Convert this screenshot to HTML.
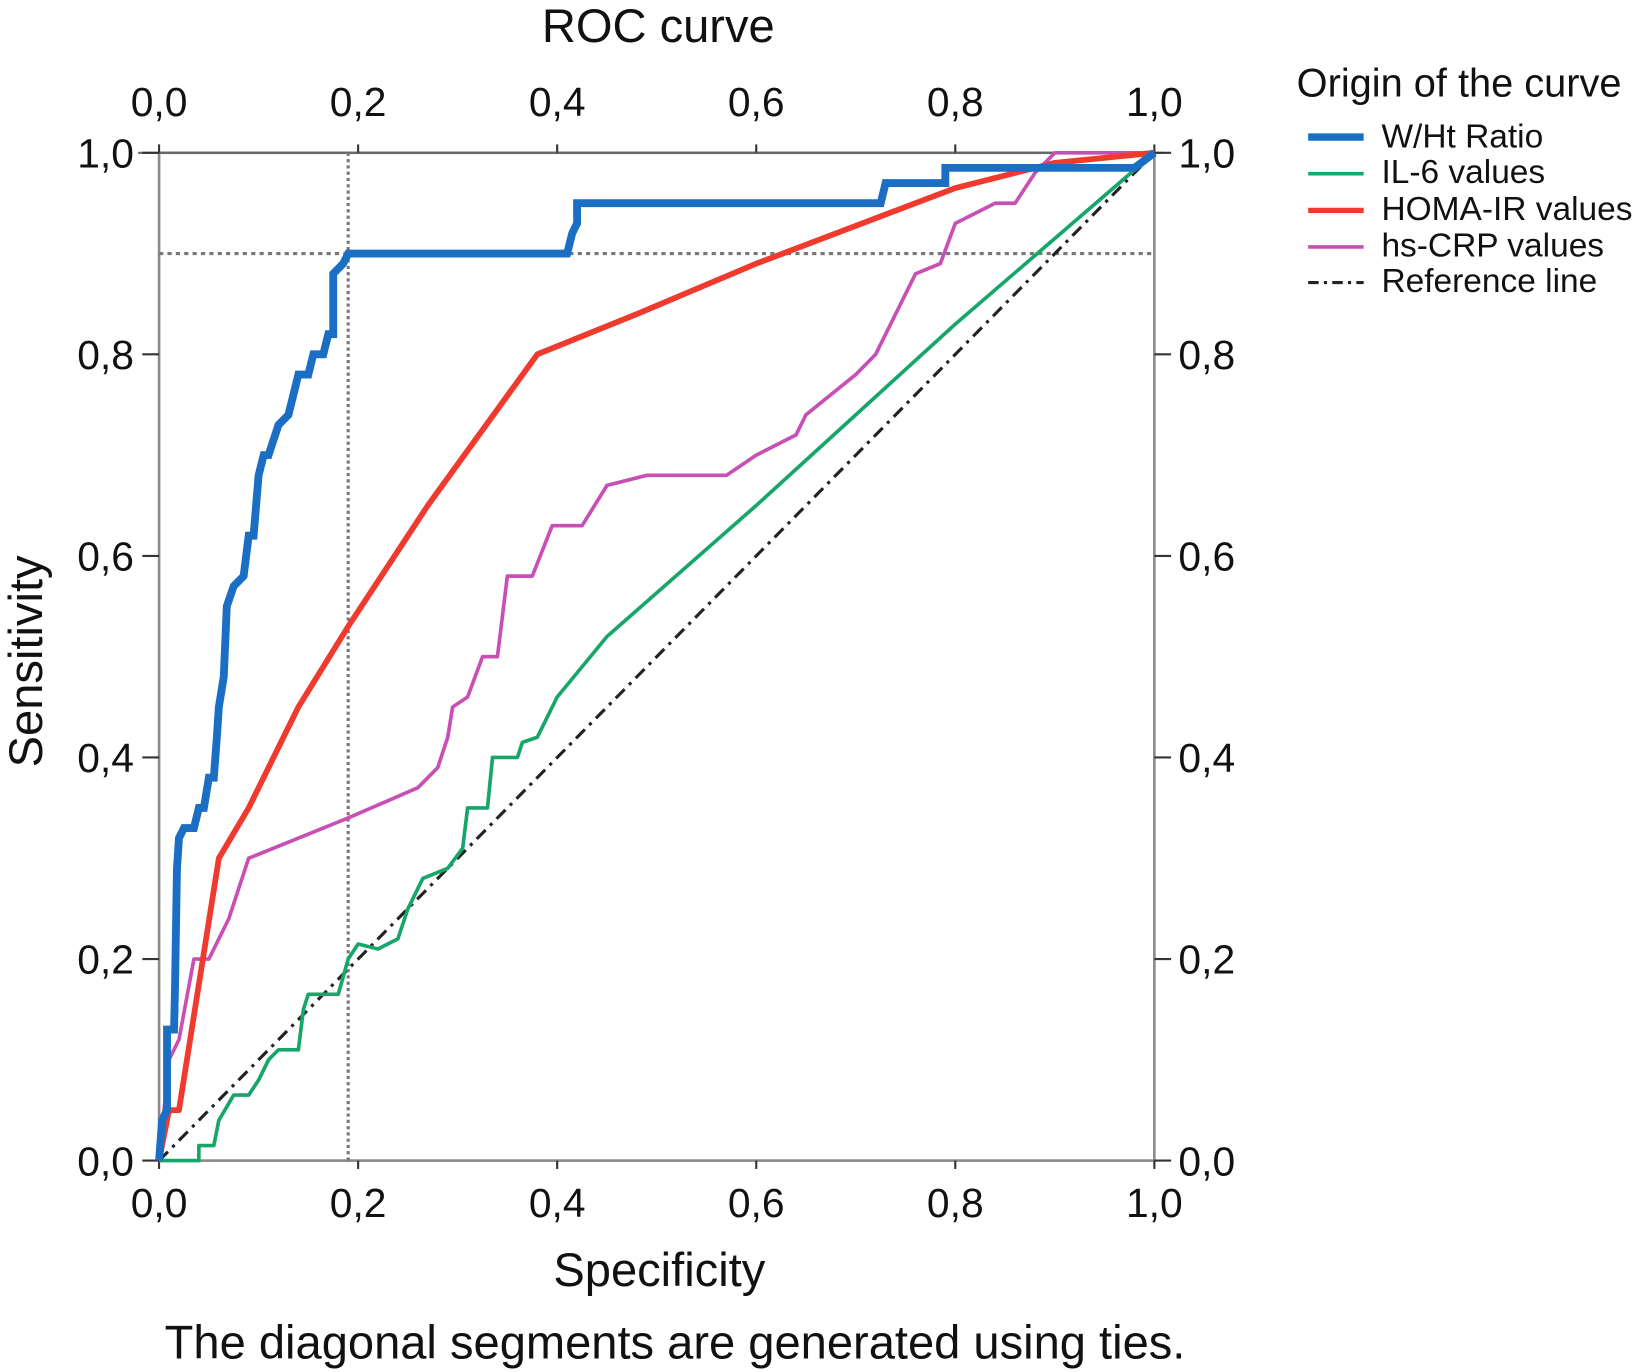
<!DOCTYPE html>
<html><head><meta charset="utf-8"><style>
html,body{margin:0;padding:0;background:#fff;}
svg{display:block;font-family:"Liberation Sans",Arial,sans-serif;}
</style></head><body>
<svg id="chart" width="1641" height="1372" viewBox="0 0 1568 1311" preserveAspectRatio="none" xmlns="http://www.w3.org/2000/svg">
<text x="629" y="40" font-size="45" text-anchor="middle" fill="#111">ROC curve</text>
<g id="axes"></g>
<g id="series"></g>
<text x="630" y="1229" font-size="45" text-anchor="middle" fill="#111">Specificity</text>
<text x="0" y="0" font-size="45" text-anchor="middle" fill="#111" transform="translate(40,632) rotate(-90)">Sensitivity</text>
<text x="645" y="1298" font-size="45" text-anchor="middle" fill="#111">The diagonal segments are generated using ties.</text>
<g>
<text x="1239" y="92" font-size="38" fill="#111">Origin of the curve</text>
<line x1="1250" y1="131" x2="1303" y2="131" stroke="#1a6fc4" stroke-width="7"/>
<text x="1320" y="141" font-size="32" fill="#111">W/Ht Ratio</text>
<line x1="1250" y1="166" x2="1303" y2="166" stroke="#17a66a" stroke-width="3.5"/>
<text x="1320" y="175" font-size="32" fill="#111">IL-6 values</text>
<line x1="1250" y1="201" x2="1303" y2="201" stroke="#f03a2e" stroke-width="5"/>
<text x="1320" y="210" font-size="32" fill="#111">HOMA-IR values</text>
<line x1="1250" y1="236" x2="1303" y2="236" stroke="#c84fb4" stroke-width="3.5"/>
<text x="1320" y="245" font-size="32" fill="#111">hs-CRP values</text>
<line x1="1250" y1="270" x2="1303" y2="270" stroke="#222" stroke-width="3" stroke-dasharray="10,5,3,5"/>
<text x="1320" y="279" font-size="32" fill="#111">Reference line</text>
</g>
</svg>
<script>
const tickValues = [0, 0.2, 0.4, 0.6, 0.8, 1.0];
const tickLabels = ["0,0", "0,2", "0,4", "0,6", "0,8", "1,0"];
const whtX = [0,0.003,0.008,0.008,0.015,0.016,0.018,0.02,0.025,0.035,0.04,0.045,0.05,0.055,0.058,0.06,0.065,0.068,0.075,0.085,0.09,0.095,0.1,0.105,0.11,0.12,0.13,0.14,0.15,0.155,0.165,0.17,0.175,0.175,0.185,0.19,0.41,0.415,0.42,0.42,0.725,0.73,0.79,0.79,0.98,1];
const whtY = [0,0.04,0.05,0.13,0.13,0.17,0.29,0.32,0.33,0.33,0.35,0.35,0.38,0.38,0.42,0.45,0.48,0.55,0.57,0.58,0.62,0.62,0.68,0.7,0.7,0.73,0.74,0.78,0.78,0.8,0.8,0.82,0.82,0.88,0.89,0.9,0.9,0.92,0.93,0.95,0.95,0.97,0.97,0.985,0.985,1];
const homaX = [0,0.01,0.02,0.06,0.09,0.14,0.19,0.27,0.38,0.48,0.6,0.8,0.9,1];
const homaY = [0,0.05,0.05,0.3,0.35,0.45,0.53,0.65,0.8,0.84,0.89,0.965,0.99,1];
const crpX = [0,0.01,0.02,0.035,0.05,0.07,0.09,0.19,0.26,0.27,0.28,0.29,0.295,0.31,0.325,0.34,0.35,0.375,0.395,0.425,0.45,0.49,0.57,0.6,0.64,0.65,0.7,0.72,0.745,0.76,0.785,0.8,0.84,0.86,0.88,0.9,0.92,1];
const crpY = [0,0.1,0.12,0.2,0.2,0.24,0.3,0.34,0.37,0.38,0.39,0.42,0.45,0.46,0.5,0.5,0.58,0.58,0.63,0.63,0.67,0.68,0.68,0.7,0.72,0.74,0.78,0.8,0.85,0.88,0.89,0.93,0.95,0.95,0.98,1,1,1];
const il6X = [0,0.04,0.04,0.055,0.06,0.075,0.09,0.1,0.11,0.12,0.14,0.145,0.15,0.18,0.19,0.2,0.22,0.24,0.25,0.265,0.29,0.305,0.31,0.33,0.335,0.36,0.365,0.38,0.4,0.45,0.6,0.8,1];
const il6Y = [0,0,0.015,0.015,0.04,0.065,0.065,0.08,0.1,0.11,0.11,0.15,0.165,0.165,0.2,0.215,0.21,0.22,0.25,0.28,0.29,0.31,0.35,0.35,0.4,0.4,0.415,0.42,0.46,0.52,0.65,0.83,1];
const refX = [0,1];
const refY = [0,1];
const cutX = 0.19;
const cutY = 0.9;

const NS = "http://www.w3.org/2000/svg";
const L = 152, R = 1103, T = 146, B = 1109;
const sx = v => L + v * (R - L);
const sy = v => B - v * (B - T);
function mk(tag, attrs, parent) {
  const e = document.createElementNS(NS, tag);
  for (const k in attrs) e.setAttribute(k, attrs[k]);
  parent.appendChild(e);
  return e;
}
const axes = document.getElementById('axes');
const series = document.getElementById('series');
let e;
e = mk('rect', {x: L, y: T, width: R - L, height: B - T, fill: 'none', stroke: '#8a8a8a', 'stroke-width': 2.5}, axes);


e = mk('line', {x1: L - 20, y1: T, x2: R + 8, y2: T, stroke: '#666', 'stroke-width': 2}, axes);


tickValues.forEach((v, i) => {
  const x = sx(v), y = sy(v);
  e = mk('line', {x1: x, y1: T - 8, x2: x, y2: T, stroke: '#333', 'stroke-width': 2}, axes);
  
  
  e = mk('line', {x1: x, y1: B, x2: x, y2: B + 8, stroke: '#333', 'stroke-width': 2}, axes);
  
  
  e = mk('line', {x1: L - 16, y1: y, x2: L, y2: y, stroke: '#333', 'stroke-width': 2}, axes);
  
  
  e = mk('line', {x1: R, y1: y, x2: R + 16, y2: y, stroke: '#333', 'stroke-width': 2}, axes);
  
  
  e = mk('text', {x: x, y: 111, 'font-size': 39, 'text-anchor': 'middle', fill: '#111'}, axes);
  e.textContent = tickLabels[i];
  
  
  e = mk('text', {x: x, y: 1163, 'font-size': 39, 'text-anchor': 'middle', fill: '#111'}, axes);
  e.textContent = tickLabels[i];
  
  
  e = mk('text', {x: 128, y: y + 14, 'font-size': 39, 'text-anchor': 'end', fill: '#111'}, axes);
  e.textContent = tickLabels[i];
  
  
  e = mk('text', {x: 1126, y: y + 14, 'font-size': 39, 'text-anchor': 'start', fill: '#111'}, axes);
  e.textContent = tickLabels[i];
  
  
});
e = mk('line', {x1: sx(cutX), y1: T, x2: sx(cutX), y2: B, stroke: '#777', 'stroke-width': 3, 'stroke-dasharray': '3,3'}, series);


e = mk('line', {x1: L, y1: sy(cutY), x2: R, y2: sy(cutY), stroke: '#777', 'stroke-width': 3, 'stroke-dasharray': '4,4'}, series);


function pts(xs, ys) { return xs.map((x, i) => sx(x).toFixed(1) + ',' + sy(ys[i]).toFixed(1)).join(' '); }
e = mk('polyline', {points: pts(refX, refY), fill: 'none', stroke: '#222', 'stroke-width': 3, 'stroke-dasharray': '12,6,3,6'}, series);


e = mk('polyline', {points: pts(il6X, il6Y), fill: 'none', stroke: '#17a66a', 'stroke-width': 3.5, 'stroke-linejoin': 'round'}, series);


e = mk('polyline', {points: pts(crpX, crpY), fill: 'none', stroke: '#c84fb4', 'stroke-width': 3.5, 'stroke-linejoin': 'round'}, series);


e = mk('polyline', {points: pts(homaX, homaY), fill: 'none', stroke: '#f03a2e', 'stroke-width': 5.5, 'stroke-linejoin': 'round'}, series);


e = mk('polyline', {points: pts(whtX, whtY), fill: 'none', stroke: '#1a6fc4', 'stroke-width': 7.5, 'stroke-linejoin': 'miter'}, series);


</script>
</body></html>
